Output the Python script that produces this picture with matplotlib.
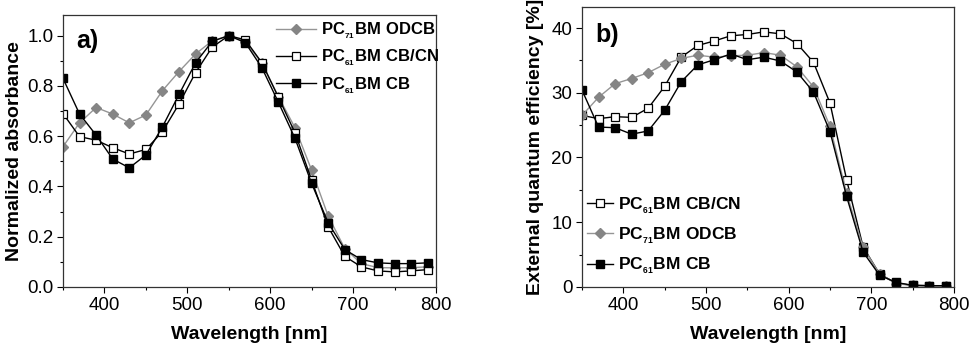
import matplotlib
matplotlib.use("Agg")
from matplotlib import pyplot as plt
from matplotlib.ticker import MultipleLocator

plt.rcParams['font.family'] = ['Liberation Sans', 'DejaVu Sans']
plt.rcParams['mathtext.fontset'] = 'custom'
plt.rcParams['mathtext.rm'] = 'Liberation Sans'
plt.rcParams['mathtext.bf'] = 'Liberation Sans:bold'

# wavelengths where markers are drawn
wl = [350, 370, 390, 410, 430, 450, 470, 490, 510, 530, 550, 570,
      590, 610, 630, 650, 670, 690, 710, 730, 750, 770, 790]

# a) normalized absorbance
abs_odcb = [0.558, 0.653, 0.714, 0.688, 0.653, 0.684, 0.781, 0.857, 0.927, 0.979, 1.0, 0.976,
            0.89, 0.757, 0.633, 0.465, 0.282, 0.153, 0.093, 0.077, 0.076, 0.077, 0.08]
abs_cbcn = [0.69, 0.598, 0.584, 0.554, 0.529, 0.547, 0.618, 0.728, 0.853, 0.954, 1.0, 0.983,
            0.892, 0.754, 0.613, 0.425, 0.239, 0.122, 0.08, 0.064, 0.06, 0.064, 0.069]
abs_cb = [0.83, 0.688, 0.604, 0.509, 0.474, 0.525, 0.637, 0.766, 0.892, 0.977, 1.0, 0.972,
          0.872, 0.734, 0.591, 0.412, 0.255, 0.149, 0.109, 0.096, 0.093, 0.093, 0.096]

# b) EQE [%]
eqe_cbcn = [26.5, 26.0, 26.3, 26.2, 27.6, 31.0, 35.5, 37.3, 38.0, 38.8, 39.0, 39.4,
            39.1, 37.6, 34.7, 28.4, 16.6, 6.2, 2.0, 0.6, 0.25, 0.2, 0.2]
eqe_odcb = [26.5, 29.3, 31.4, 32.2, 33.1, 34.4, 35.3, 35.8, 35.5, 35.7, 35.8, 36.2,
            35.8, 34.0, 30.9, 24.8, 14.5, 6.1, 2.0, 0.5, 0.25, 0.2, 0.2]
eqe_cb = [30.4, 24.7, 24.6, 23.6, 24.1, 27.3, 31.7, 34.3, 35.1, 36.0, 35.1, 35.5,
          34.9, 33.2, 30.1, 24.0, 14.0, 5.4, 1.8, 0.7, 0.25, 0.2, 0.2]

# subscripts drawn small and low, like the original
lab_odcb = r'$\mathbf{PC_{_{71}}BM\ ODCB}$'
lab_cbcn = r'$\mathbf{PC_{_{61}}BM\ CB/CN}$'
lab_cb = r'$\mathbf{PC_{_{61}}BM\ CB}$'

grey = '#858585'
sty_odcb = dict(color='#959595', marker='D', ms=5.5, mfc=grey, mec=grey, lw=1.0)
sty_cbcn = dict(color='black', marker='s', ms=5.5, mfc='white', mec='black', mew=0.9, lw=1.0)
sty_cb = dict(color='black', marker='s', ms=5.5, mfc='black', mec='black', lw=1.0)

fig = plt.figure(figsize=(9.72, 3.52), dpi=100)
ax1 = fig.add_axes([0.0648, 0.1847, 0.3837, 0.7727])
ax2 = fig.add_axes([0.5988, 0.1847, 0.3827, 0.7946])

ax1.plot(wl, abs_odcb, label=lab_odcb, **sty_odcb)
ax1.plot(wl, abs_cbcn, label=lab_cbcn, **sty_cbcn)
ax1.plot(wl, abs_cb, label=lab_cb, **sty_cb)
ax1.set_xlim(350, 800)
ax1.set_ylim(0, 1.082)
ax1.yaxis.set_major_locator(MultipleLocator(0.2))
ax1.yaxis.set_minor_locator(MultipleLocator(0.1))
ax1.set_ylabel('Normalized absorbance', fontsize=14, fontweight='bold', labelpad=3)
ax1.text(0.035, 0.905, 'a)', transform=ax1.transAxes, fontsize=18, fontweight='bold', va='center')
ax1.legend(loc='upper right', frameon=False, fontsize=12, handlelength=2.4,
           handletextpad=0.3, borderaxespad=0.1, labelspacing=0.4, bbox_to_anchor=(1.03, 1.01))

ax2.plot(wl, eqe_cbcn, label=lab_cbcn, **sty_cbcn)
ax2.plot(wl, eqe_odcb, label=lab_odcb, **sty_odcb)
ax2.plot(wl, eqe_cb, label=lab_cb, **sty_cb)
ax2.set_xlim(350, 800)
ax2.set_ylim(0, 43.2)
ax2.yaxis.set_major_locator(MultipleLocator(10))
ax2.yaxis.set_minor_locator(MultipleLocator(5))
ax2.set_ylabel('External quantum efficiency [%]', fontsize=14, fontweight='bold', labelpad=5)
ax2.text(0.035, 0.9, 'b)', transform=ax2.transAxes, fontsize=18, fontweight='bold', va='center')
ax2.legend(loc='lower left', frameon=False, fontsize=12.5, handlelength=1.5,
           handletextpad=0.3, borderaxespad=0.3, labelspacing=0.55, bbox_to_anchor=(-0.02, -0.005))

for ax in (ax1, ax2):
    ax.xaxis.set_major_locator(MultipleLocator(100))
    ax.xaxis.set_minor_locator(MultipleLocator(50))
    ax.set_xlabel('Wavelength [nm]', fontsize=14, fontweight='bold', labelpad=9)
    ax.tick_params(labelsize=13.5, direction='out', length=4, width=0.8, pad=3)
    ax.tick_params(which='minor', direction='out', length=2.5, width=0.8)
    for s in ax.spines.values():
        s.set_linewidth(0.9)
        s.set_color('#333333')

fig.savefig('out.png', dpi=100)
